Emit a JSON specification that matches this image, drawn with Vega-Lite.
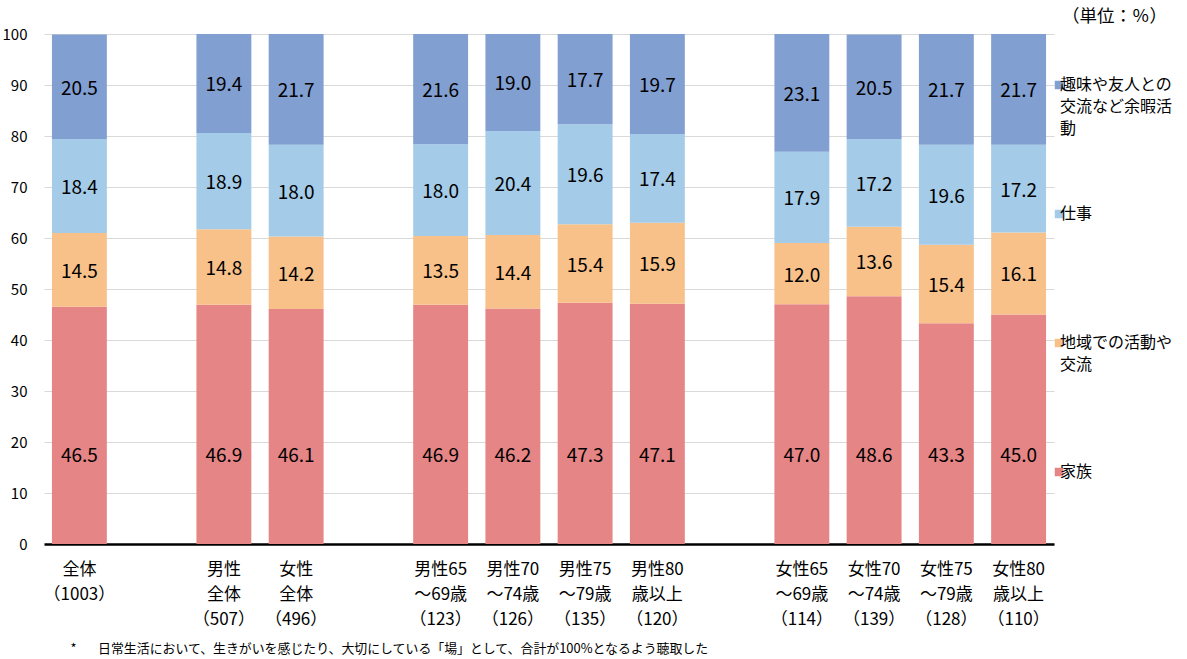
{
  "$schema": "https://vega.github.io/schema/vega-lite/v6.json",
  "width": 1010,
  "height": 510,
  "autosize": {"type": "none"},
  "padding": {"left": 44, "top": 34, "right": 133, "bottom": 115},
  "background": "white",
  "config": {"font": "Noto Sans CJK JP", "view": {"stroke": null}},
  "title": {"text": "（単位：％）", "anchor": "end", "frame": "group", "dx": 113, "offset": 2, "fontSize": 17.5, "fontWeight": "normal", "color": "#000"},
  "data": {"values": [
    {"group": "全体|（1003）", "series": "家族", "value": 46.5},
    {"group": "全体|（1003）", "series": "地域での活動や交流", "value": 14.5},
    {"group": "全体|（1003）", "series": "仕事", "value": 18.4},
    {"group": "全体|（1003）", "series": "趣味や友人との交流など余暇活動", "value": 20.5},
    {"group": "男性|全体|（507）", "series": "家族", "value": 46.9},
    {"group": "男性|全体|（507）", "series": "地域での活動や交流", "value": 14.8},
    {"group": "男性|全体|（507）", "series": "仕事", "value": 18.9},
    {"group": "男性|全体|（507）", "series": "趣味や友人との交流など余暇活動", "value": 19.4},
    {"group": "女性|全体|（496）", "series": "家族", "value": 46.1},
    {"group": "女性|全体|（496）", "series": "地域での活動や交流", "value": 14.2},
    {"group": "女性|全体|（496）", "series": "仕事", "value": 18.0},
    {"group": "女性|全体|（496）", "series": "趣味や友人との交流など余暇活動", "value": 21.7},
    {"group": "男性65|～69歳|（123）", "series": "家族", "value": 46.9},
    {"group": "男性65|～69歳|（123）", "series": "地域での活動や交流", "value": 13.5},
    {"group": "男性65|～69歳|（123）", "series": "仕事", "value": 18.0},
    {"group": "男性65|～69歳|（123）", "series": "趣味や友人との交流など余暇活動", "value": 21.6},
    {"group": "男性70|～74歳|（126）", "series": "家族", "value": 46.2},
    {"group": "男性70|～74歳|（126）", "series": "地域での活動や交流", "value": 14.4},
    {"group": "男性70|～74歳|（126）", "series": "仕事", "value": 20.4},
    {"group": "男性70|～74歳|（126）", "series": "趣味や友人との交流など余暇活動", "value": 19.0},
    {"group": "男性75|～79歳|（135）", "series": "家族", "value": 47.3},
    {"group": "男性75|～79歳|（135）", "series": "地域での活動や交流", "value": 15.4},
    {"group": "男性75|～79歳|（135）", "series": "仕事", "value": 19.6},
    {"group": "男性75|～79歳|（135）", "series": "趣味や友人との交流など余暇活動", "value": 17.7},
    {"group": "男性80|歳以上|（120）", "series": "家族", "value": 47.1},
    {"group": "男性80|歳以上|（120）", "series": "地域での活動や交流", "value": 15.9},
    {"group": "男性80|歳以上|（120）", "series": "仕事", "value": 17.4},
    {"group": "男性80|歳以上|（120）", "series": "趣味や友人との交流など余暇活動", "value": 19.7},
    {"group": "女性65|～69歳|（114）", "series": "家族", "value": 47.0},
    {"group": "女性65|～69歳|（114）", "series": "地域での活動や交流", "value": 12.0},
    {"group": "女性65|～69歳|（114）", "series": "仕事", "value": 17.9},
    {"group": "女性65|～69歳|（114）", "series": "趣味や友人との交流など余暇活動", "value": 23.1},
    {"group": "女性70|～74歳|（139）", "series": "家族", "value": 48.6},
    {"group": "女性70|～74歳|（139）", "series": "地域での活動や交流", "value": 13.6},
    {"group": "女性70|～74歳|（139）", "series": "仕事", "value": 17.2},
    {"group": "女性70|～74歳|（139）", "series": "趣味や友人との交流など余暇活動", "value": 20.5},
    {"group": "女性75|～79歳|（128）", "series": "家族", "value": 43.3},
    {"group": "女性75|～79歳|（128）", "series": "地域での活動や交流", "value": 15.4},
    {"group": "女性75|～79歳|（128）", "series": "仕事", "value": 19.6},
    {"group": "女性75|～79歳|（128）", "series": "趣味や友人との交流など余暇活動", "value": 21.7},
    {"group": "女性80|歳以上|（110）", "series": "家族", "value": 45.0},
    {"group": "女性80|歳以上|（110）", "series": "地域での活動や交流", "value": 16.1},
    {"group": "女性80|歳以上|（110）", "series": "仕事", "value": 17.2},
    {"group": "女性80|歳以上|（110）", "series": "趣味や友人との交流など余暇活動", "value": 21.7}
  ]},
  "transform": [
    {"calculate": "indexof(['家族','地域での活動や交流','仕事','趣味や友人との交流など余暇活動'], datum.series)", "as": "ord"},
    {"stack": "value", "groupby": ["group"], "sort": [{"field": "ord", "order": "ascending"}], "as": ["v0", "v1"]},
    {"calculate": "datum.series == '家族' ? 17.6 : (datum.v0 + datum.v1) / 2", "as": "mid"}
  ],
  "encoding": {
    "x": {
      "field": "group",
      "type": "nominal",
      "scale": {
        "domain": ["全体|（1003）", "gap1", "男性|全体|（507）", "女性|全体|（496）", "gap2", "男性65|～69歳|（123）", "男性70|～74歳|（126）", "男性75|～79歳|（135）", "男性80|歳以上|（120）", "gap3", "女性65|～69歳|（114）", "女性70|～74歳|（139）", "女性75|～79歳|（128）", "女性80|歳以上|（110）"],
        "paddingInner": 0.24,
        "paddingOuter": 0.11
      },
      "axis": {
        "title": "*\u3000\u00a0\u00a0\u00a0日常生活において、生きがいを感じたり、大切にしている「場」として、合計が100%となるよう聴取した",
        "titleAnchor": "start",
        "titleAlign": "left",
        "titleX": 26,
        "titleY": 104,
        "titleBaseline": "middle",
        "titleFontSize": 12.9,
        "titleFontWeight": "normal",
        "titleColor": "#000",
        "labelAngle": 0,
        "labelExpr": "indexof(datum.value, 'gap') == 0 ? '' : split(datum.value, '|')",
        "labelFontSize": 17,
        "labelLineHeight": 25,
        "labelPadding": 17,
        "labelColor": "#000",
        "ticks": false,
        "domainColor": "#000",
        "domainWidth": 2.5,
        "grid": false
      }
    }
  },
  "layer": [
    {
      "mark": {"type": "bar"},
      "encoding": {
        "y": {
          "field": "v0",
          "type": "quantitative",
          "scale": {"domain": [0, 100], "clamp": true, "nice": false},
          "axis": {
            "values": [0, 10, 20, 30, 40, 50, 60, 70, 80, 90, 100],
            "title": null,
            "labelFontSize": 15,
            "labelColor": "#000",
            "labelPadding": 17,
            "ticks": false,
            "domain": false,
            "gridColor": "#d9d9d9",
            "gridWidth": 1
          }
        },
        "y2": {"field": "v1"},
        "color": {
          "field": "series",
          "type": "nominal",
          "scale": {
            "domain": ["趣味や友人との交流など余暇活動", "仕事", "地域での活動や交流", "家族"],
            "range": ["#829fd1", "#a4cbe8", "#f8c18a", "#e68585"]
          },
          "legend": {
            "title": null,
            "orient": "none",
            "legendX": 1007,
            "legendY": 43,
            "padding": 0,
            "symbolType": "square",
            "symbolSize": 72,
            "symbolStrokeWidth": 0,
            "labelFontSize": 16,
            "labelColor": "#000",
            "labelBaseline": "middle",
            "labelOffset": -7,
            "labelLimit": 200,
            "rowPadding": 25,
            "labelExpr": "datum.label == '趣味や友人との交流など余暇活動' ? ['趣味や友人との', '交流など余暇活', '動', '\u00a0', '\u00a0'] : datum.label == '地域での活動や交流' ? ['地域での活動や', '交流', '\u00a0', '\u00a0', '\u00a0'] : [datum.label, '\u00a0', '\u00a0', '\u00a0', '\u00a0']",
            "encode": {"labels": {"update": {"lineHeight": {"value": 22}}}}
          }
        }
      }
    },
    {
      "mark": {"type": "text", "fontSize": 19, "dy": 2, "color": "#000"},
      "encoding": {
        "y": {"field": "mid", "type": "quantitative"},
        "text": {"field": "value", "type": "quantitative", "format": ".1f"}
      }
    }
  ]
}
